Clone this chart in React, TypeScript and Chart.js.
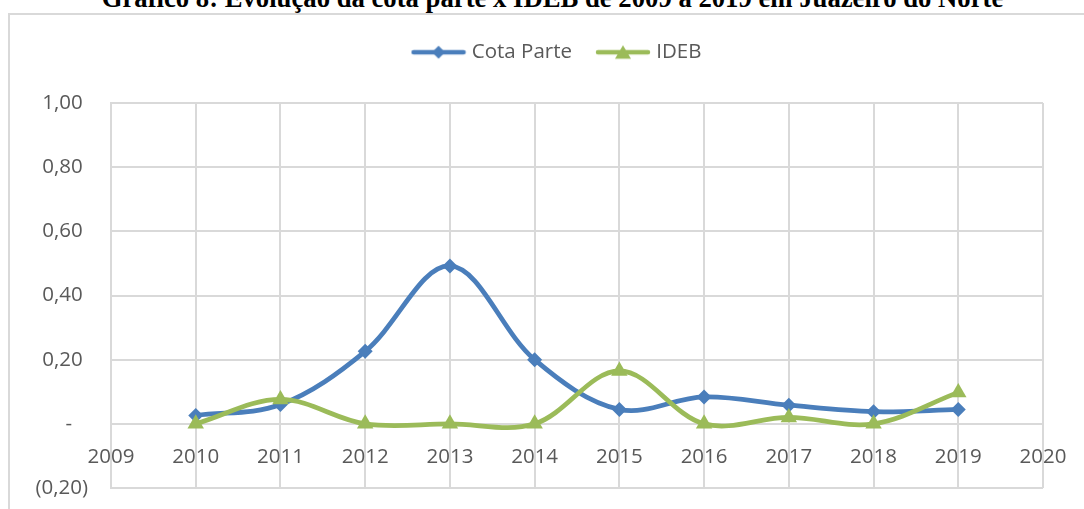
import React, { useEffect, useRef } from 'react';
import { Chart, registerables } from 'chart.js';

Chart.register(...registerables);

// ---- data ----
const years = [2010, 2011, 2012, 2013, 2014, 2015, 2016, 2017, 2018, 2019];
const cotaParte = [0.026, 0.06, 0.226, 0.492, 0.2, 0.045, 0.084, 0.058, 0.038, 0.045];
const ideb = [0.0, 0.076, 0.0, 0.0, 0.0, 0.165, 0.0, 0.02, 0.0, 0.098];
const seriesNames = ['Cota Parte', 'IDEB'];
const xRange = [2009, 2020];
const yRange = [-0.2, 1.0];
const yStep = 0.2;
const titleText = 'Gráfico 8: Evolução da cota parte x IDEB de 2009 a 2019 em Juazeiro do Norte';

// ---- style ----
const BLUE = '#4a7ebb';
const GREEN = '#9bbb59';
const TEXT = '#595959';
const GRID = '#d9d9d9';
const FONT_FAMILY = "'Open Sans', sans-serif";
const FONT_SIZE = 20.5;

function legendIcon(color: string, shape: 'diamond' | 'triangle'): HTMLCanvasElement {
  const c = document.createElement('canvas');
  c.width = 56;
  c.height = 20;
  const ctx = c.getContext('2d')!;
  ctx.strokeStyle = color;
  ctx.fillStyle = color;
  ctx.lineWidth = 4.5;
  ctx.lineCap = 'round';
  ctx.beginPath();
  ctx.moveTo(3, 10);
  ctx.lineTo(53, 10);
  ctx.stroke();
  ctx.beginPath();
  if (shape === 'diamond') {
    ctx.moveTo(28, 3.5);
    ctx.lineTo(34.5, 10);
    ctx.lineTo(28, 16.5);
    ctx.lineTo(21.5, 10);
  } else {
    ctx.moveTo(28, 3);
    ctx.lineTo(36, 16.5);
    ctx.lineTo(20, 16.5);
  }
  ctx.closePath();
  ctx.fill();
  return c;
}

function formatY(v: number): string {
  const r = Math.round(v * 100) / 100;
  if (Math.abs(r) < 1e-9) return '-   ';
  if (r < 0) return '(' + Math.abs(r).toFixed(2).replace('.', ',') + ')';
  return r.toFixed(2).replace('.', ',') + ' ';
}

export default function App() {
  const ref = useRef<HTMLCanvasElement>(null);

  useEffect(() => {
    const canvas = ref.current!;
    const font = { family: FONT_FAMILY, size: FONT_SIZE };
    const icons = [legendIcon(BLUE, 'diamond'), legendIcon(GREEN, 'triangle')];
    const chart = new Chart(canvas, {
      type: 'line',
      data: {
        datasets: [
          {
            label: seriesNames[0],
            data: years.map((x, i) => ({ x, y: cotaParte[i] })),
            borderColor: BLUE,
            backgroundColor: BLUE,
            pointBackgroundColor: BLUE,
            pointBorderColor: BLUE,
            borderWidth: 4.75,
            pointStyle: 'rectRot',
            pointRadius: 7.5,
            pointBorderWidth: 0,
            tension: 0.35,
            order: 2,
          },
          {
            label: seriesNames[1],
            data: years.map((x, i) => ({ x, y: ideb[i] })),
            borderColor: GREEN,
            backgroundColor: GREEN,
            pointBackgroundColor: GREEN,
            pointBorderColor: GREEN,
            borderWidth: 4.75,
            pointStyle: 'triangle',
            pointRadius: 9.5,
            pointBorderWidth: 0,
            tension: 0.35,
            order: 1,
          },
        ],
      },
      options: {
        responsive: false,
        animation: false,
        devicePixelRatio: 1,
        layout: { padding: { left: 0, right: 0, top: 0, bottom: 21 } },
        scales: {
          x: {
            type: 'linear',
            min: xRange[0],
            max: xRange[1],
            position: { y: 0 } as any,
            ticks: {
              stepSize: 1,
              autoSkip: false,
              maxRotation: 0,
              padding: 21,
              color: TEXT,
              font,
              callback: (v: any) => String(v),
            },
            grid: { color: GRID, lineWidth: 2, drawTicks: false },
            border: { color: GRID, width: 2 },
          },
          y: {
            type: 'linear',
            position: 'left',
            min: yRange[0],
            max: yRange[1],
            ticks: {
              stepSize: yStep,
              padding: 23,
              color: TEXT,
              font,
              callback: (v: any) => formatY(Number(v)),
            },
            grid: { color: GRID, lineWidth: 2, drawTicks: false },
            border: { color: GRID, width: 2 },
            afterFit: (s: any) => {
              s.width = 101;
              s.paddingTop = 0;
              s.paddingBottom = 0;
            },
          },
          pad: {
            type: 'linear',
            position: 'right',
            display: true,
            min: 0,
            max: 1,
            ticks: { display: false },
            grid: { display: false, drawOnChartArea: false, drawTicks: false },
            border: { display: false },
            afterFit: (s: any) => {
              s.width = 64;
              s.paddingTop = 0;
              s.paddingBottom = 0;
            },
          },
        },
        plugins: {
          legend: {
            position: 'top',
            labels: {
              usePointStyle: true,
              pointStyleWidth: 46,
              padding: 28,
              color: TEXT,
              font,
              generateLabels: (c: any) =>
                c.data.datasets.map((ds: any, i: number) => ({
                  text: ds.label,
                  fillStyle: ds.borderColor,
                  strokeStyle: ds.borderColor,
                  fontColor: TEXT,
                  lineWidth: 0,
                  pointStyle: icons[i],
                  hidden: false,
                  datasetIndex: i,
                })),
            },
          },
          subtitle: {
            display: true,
            text: '',
            weight: 500,
            padding: { top: 0, bottom: 18.5 },
            font: { size: 10 },
          } as any,
          tooltip: { enabled: false },
        },
      },
    } as any);
    return () => chart.destroy();
  }, []);

  return (
    <div
      style={{
        position: 'absolute',
        left: 0,
        top: 0,
        width: 1084,
        height: 509,
        overflow: 'hidden',
        background: '#ffffff',
      }}
    >
      <div
        style={{
          position: 'absolute',
          left: 0,
          top: -15,
          width: 1105,
          textAlign: 'center',
          whiteSpace: 'nowrap',
          fontFamily: "'Liberation Serif', serif",
          fontWeight: 'bold',
          fontSize: 26.7,
          lineHeight: '26.7px',
          color: '#000',
        }}
      >
        {titleText}
      </div>
      <div
        style={{
          position: 'absolute',
          left: 8,
          top: 13,
          width: 1082,
          height: 520,
          boxSizing: 'border-box',
          border: `2px solid ${GRID}`,
        }}
      />
      <canvas
        ref={ref}
        width={1097}
        height={495}
        style={{ position: 'absolute', left: 10, top: 14, width: 1097, height: 495 }}
      />
    </div>
  );
}
